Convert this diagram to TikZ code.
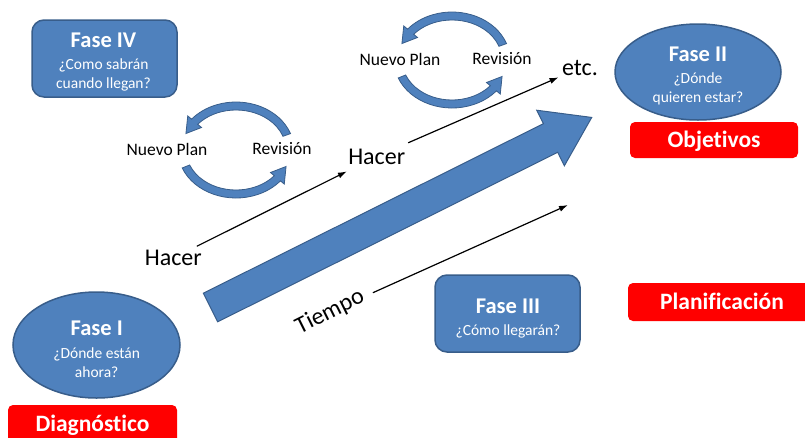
\documentclass[tikz,border=0pt]{standalone}
\usepackage{fontspec}
\setmainfont{Carlito}[Ligatures={NoCommon,NoContextual}]
\usetikzlibrary{arrows.meta,calc,shapes.geometric}

\definecolor{faseblue}{HTML}{4F81BD}
\definecolor{faseline}{HTML}{385D8A}
\definecolor{tagred}{HTML}{FF0000}

\newcommand{\fasetitle}[1]{{\fontsize{22.5}{22.5}\selectfont\bfseries #1}}
% block arc for the plan/review loops: #1 centre, #2 start, #3 head base, #4 tip
\newcommand{\looparc}[4]{%
  \draw[loopfill] ($(#1)+(#2:58pt and 48pt)$)
      arc[start angle=#2, end angle=#3, x radius=58pt, y radius=48pt]
      -- ($(#1)+(#3:63pt and 53pt)$) -- ($(#1)+(#4:54pt and 44pt)$)
      -- ($(#1)+(#3:45pt and 35pt)$) -- ($(#1)+(#3:50pt and 40pt)$)
      arc[start angle=#3, end angle=#2, x radius=50pt, y radius=40pt] -- cycle;}

\tikzset{
  fasebox/.style={draw=faseline, fill=faseblue, line width=1.5pt, rounded corners=12pt,
    minimum width=145pt, minimum height=77pt},
  faseoval/.style={draw=faseline, fill=faseblue, line width=1.5pt, ellipse, inner sep=0pt},
  fasetext/.style={text=white, align=center, inner sep=0pt, font=\fontsize{15.5}{19}\selectfont},
  tag/.style={fill=tagred, rounded corners=5pt, text=white, inner sep=0pt,
    font=\fontsize{23.5}{23.5}\selectfont\bfseries, text height=15pt, text depth=0pt},
  looplabel/.style={font=\fontsize{17.5}{17.5}\selectfont},
  bigword/.style={font=\fontsize{24}{24}\selectfont},
  thinarrow/.style={-{Latex[length=9pt,width=6pt]}, line width=1.2pt},
  loopfill/.style={fill=faseblue, draw=faseline, line width=0.8pt},
}

\begin{document}
\begin{tikzpicture}[x=1pt, y=-1pt]
  \useasboundingbox (0,0) rectangle (805,437);
  \clip (0,0) rectangle (805,437);

  % phases
  \node[fasebox] (fase4) at (104.5,58.5) {};
  \node[fasetext] (fase4txt) at (103.5,62.2) {\fasetitle{Fase IV}\\[3pt]¿Como sabrán\\cuando llegan?};
  \node[faseoval, minimum width=166pt, minimum height=96pt] (fase2) at (698,72) {};
  \node[fasetext] (fase2txt) at (698,76.2) {\fasetitle{Fase II}\\[3pt]¿Dónde\\quieren estar?};
  \node[faseoval, minimum width=167pt, minimum height=106pt] (fase1) at (96.5,345) {};
  \node[fasetext] (fase1txt) at (96.7,348.8) {\fasetitle{Fase I}\\[4pt]¿Dónde están\\ahora?};
  \node[fasebox] (fase3) at (507.5,313.5) {};
  \node[fasetext] (fase3txt) at (508,318.7) {\fasetitle{Fase III}\\[3pt]¿Cómo llegarán?};

  % red tags
  \node[tag, minimum width=168pt, minimum height=36pt] (objetivos) at (714,140) {Objetivos};
  \node[tag, minimum width=188pt, minimum height=38pt] (planif) at (722,302) {Planificación};
  \node[tag, minimum width=169pt, minimum height=38pt] (diagnostico) at (92.5,424) {Diagnóstico};

  % big time arrow
  \begin{scope}[shift={(210.5,307.5)}, rotate=26.5]
    \draw[loopfill, line width=1pt] (0,-16) -- (380,-16) -- (380,-31) -- (426,0)
      -- (380,31) -- (380,16) -- (0,16) -- cycle;
  \end{scope}

  % words along the way
  \node[bigword] (hacer1) at (173.3,258) {Hacer};
  \node[bigword] (hacer2) at (376.7,156.5) {Hacer};
  \node[bigword] (etc) at (580,68) {etc.};
  \node[bigword, rotate=26.5, inner sep=1pt] (tiempo) at (330,312) {Tiempo};
  \coordinate (tiempoend) at (568,205);

  \draw[thinarrow, shorten <=1pt, shorten >=8pt] (hacer1) -- (hacer2);
  \draw[thinarrow, shorten <=6pt] (hacer2) -- (etc);
  \draw[thinarrow, shorten <=9pt] (tiempo) -- (tiempoend);

  % plan / review loops
  \coordinate (loopA) at (236,150);
  \coordinate (loopB) at (452,60);
  \node[looplabel] (plan1) at (167,149) {Nuevo Plan};
  \node[looplabel] (rev1) at (282,149) {Revisión};
  \node[looplabel] (plan2) at (400,59) {Nuevo Plan};
  \node[looplabel] (rev2) at (502,59) {Revisión};
  \looparc{loopA}{20}{140}{158}
  \looparc{loopA}{202}{320}{338}
  \looparc{loopB}{20}{140}{158}
  \looparc{loopB}{202}{320}{338}
\end{tikzpicture}
\end{document}
